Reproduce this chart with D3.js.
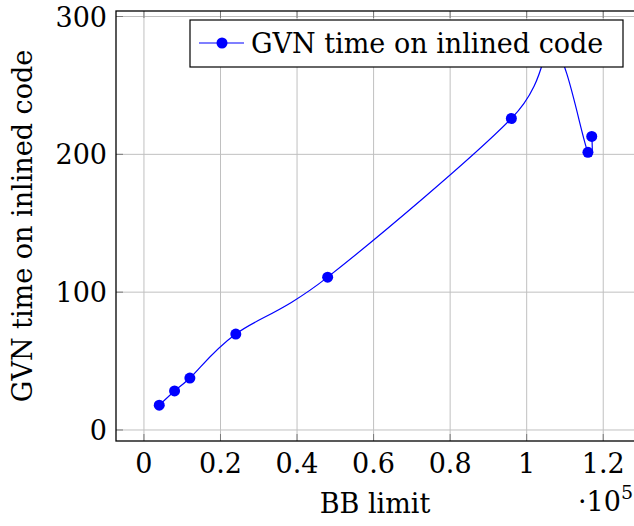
<!DOCTYPE html>
<html>
<head>
<meta charset="utf-8">
<script src="https://cdn.jsdelivr.net/npm/d3@7"></script>
<style>
  body { margin: 0; background: #fff; }
</style>
</head>
<body>
<div id="chart"></div>
<script>
const width = 634;
const height = 526;

// BB limit values (in units of 1e5) and GVN time
const bbLimit = [0.04, 0.08, 0.12, 0.24, 0.48, 0.96, 1.07, 1.16, 1.17];
const gvnTime = [18, 28.3, 37.7, 69.6, 110.9, 226, 278, 201.5, 213];
const xTicks = [0, 0.2, 0.4, 0.6, 0.8, 1, 1.2];
const yTicks = [0, 100, 200, 300];
const seriesName = 'GVN time on inlined code';

const plot = { left: 116, top: 11, right: 635, bottom: 441 };

const svg = d3.select('#chart')
  .append('svg')
  .attr('width', width)
  .attr('height', height)
  .attr('font-family', "'DejaVu Serif', serif");

const x = d3.scaleLinear().domain([-0.073, 1.283]).range([plot.left, plot.right]);
const y = d3.scaleLinear().domain([-8, 304]).range([plot.bottom, plot.top]);

// grid
svg.append('g')
  .selectAll('line')
  .data(xTicks)
  .join('line')
  .attr('x1', d => x(d)).attr('x2', d => x(d))
  .attr('y1', plot.top).attr('y2', plot.bottom)
  .attr('stroke', '#c0c0c0').attr('stroke-width', 1);

svg.append('g')
  .selectAll('line')
  .data(yTicks)
  .join('line')
  .attr('x1', plot.left).attr('x2', plot.right)
  .attr('y1', d => y(d)).attr('y2', d => y(d))
  .attr('stroke', '#c0c0c0').attr('stroke-width', 1);

// small inner tick marks (pgfplots style)
const tickLen = 7;
svg.append('g')
  .selectAll('line')
  .data(yTicks)
  .join('line')
  .attr('x1', plot.left).attr('x2', plot.left + tickLen)
  .attr('y1', d => y(d)).attr('y2', d => y(d))
  .attr('stroke', '#7a7a7a');
svg.append('g')
  .selectAll('line')
  .data(xTicks)
  .join('line')
  .attr('x1', d => x(d)).attr('x2', d => x(d))
  .attr('y1', plot.bottom).attr('y2', plot.bottom - tickLen)
  .attr('stroke', '#7a7a7a');
svg.append('g')
  .selectAll('line')
  .data(xTicks)
  .join('line')
  .attr('x1', d => x(d)).attr('x2', d => x(d))
  .attr('y1', plot.top).attr('y2', plot.top + tickLen)
  .attr('stroke', '#7a7a7a');

// axis frame
svg.append('rect')
  .attr('x', plot.left).attr('y', plot.top)
  .attr('width', plot.right - plot.left)
  .attr('height', plot.bottom - plot.top)
  .attr('fill', 'none')
  .attr('stroke', '#000')
  .attr('stroke-width', 1.3);

// tick labels
svg.append('g')
  .selectAll('text')
  .data(yTicks)
  .join('text')
  .attr('x', plot.left - 9)
  .attr('y', d => y(d) + 10)
  .attr('text-anchor', 'end')
  .attr('font-size', 27)
  .text(d => d);

svg.append('g')
  .selectAll('text')
  .data(xTicks)
  .join('text')
  .attr('x', d => x(d))
  .attr('y', plot.bottom + 32)
  .attr('text-anchor', 'middle')
  .attr('font-size', 27)
  .text(d => d);

// exponent
const expo = svg.append('text')
  .attr('x', 578)
  .attr('y', 511)
  .attr('font-size', 27);
expo.append('tspan').text('·10');
expo.append('tspan').attr('font-size', 19).attr('dy', -12).text('5');

// axis labels
svg.append('text')
  .attr('x', 375)
  .attr('y', 513)
  .attr('text-anchor', 'middle')
  .attr('font-size', 27)
  .text('BB limit');

svg.append('text')
  .attr('transform', `translate(32, ${(plot.top + plot.bottom) / 2}) rotate(-90)`)
  .attr('text-anchor', 'middle')
  .attr('font-size', 27)
  .text(seriesName);

// series
const points = bbLimit.map((d, i) => [d, gvnTime[i]]);
const line = d3.line()
  .x(d => x(d[0]))
  .y(d => y(d[1]))
  .curve(d3.curveCatmullRom.alpha(0));

svg.append('path')
  .datum(points)
  .attr('d', line)
  .attr('fill', 'none')
  .attr('stroke', '#0000ff')
  .attr('stroke-width', 1.2);

svg.append('g')
  .selectAll('circle')
  .data(points)
  .join('circle')
  .attr('cx', d => x(d[0]))
  .attr('cy', d => y(d[1]))
  .attr('r', 5.5)
  .attr('fill', '#0000ff');

// legend
const legend = svg.append('g');
legend.append('rect')
  .attr('x', 190).attr('y', 20)
  .attr('width', 433).attr('height', 47)
  .attr('fill', '#fff')
  .attr('stroke', '#000')
  .attr('stroke-width', 1.2);
legend.append('line')
  .attr('x1', 199).attr('x2', 244)
  .attr('y1', 43).attr('y2', 43)
  .attr('stroke', '#0000ff').attr('stroke-width', 1.2);
legend.append('circle')
  .attr('cx', 222).attr('cy', 43).attr('r', 5.5)
  .attr('fill', '#0000ff');
legend.append('text')
  .attr('x', 251).attr('y', 53)
  .attr('font-size', 27)
  .text(seriesName);
</script>
</body>
</html>
